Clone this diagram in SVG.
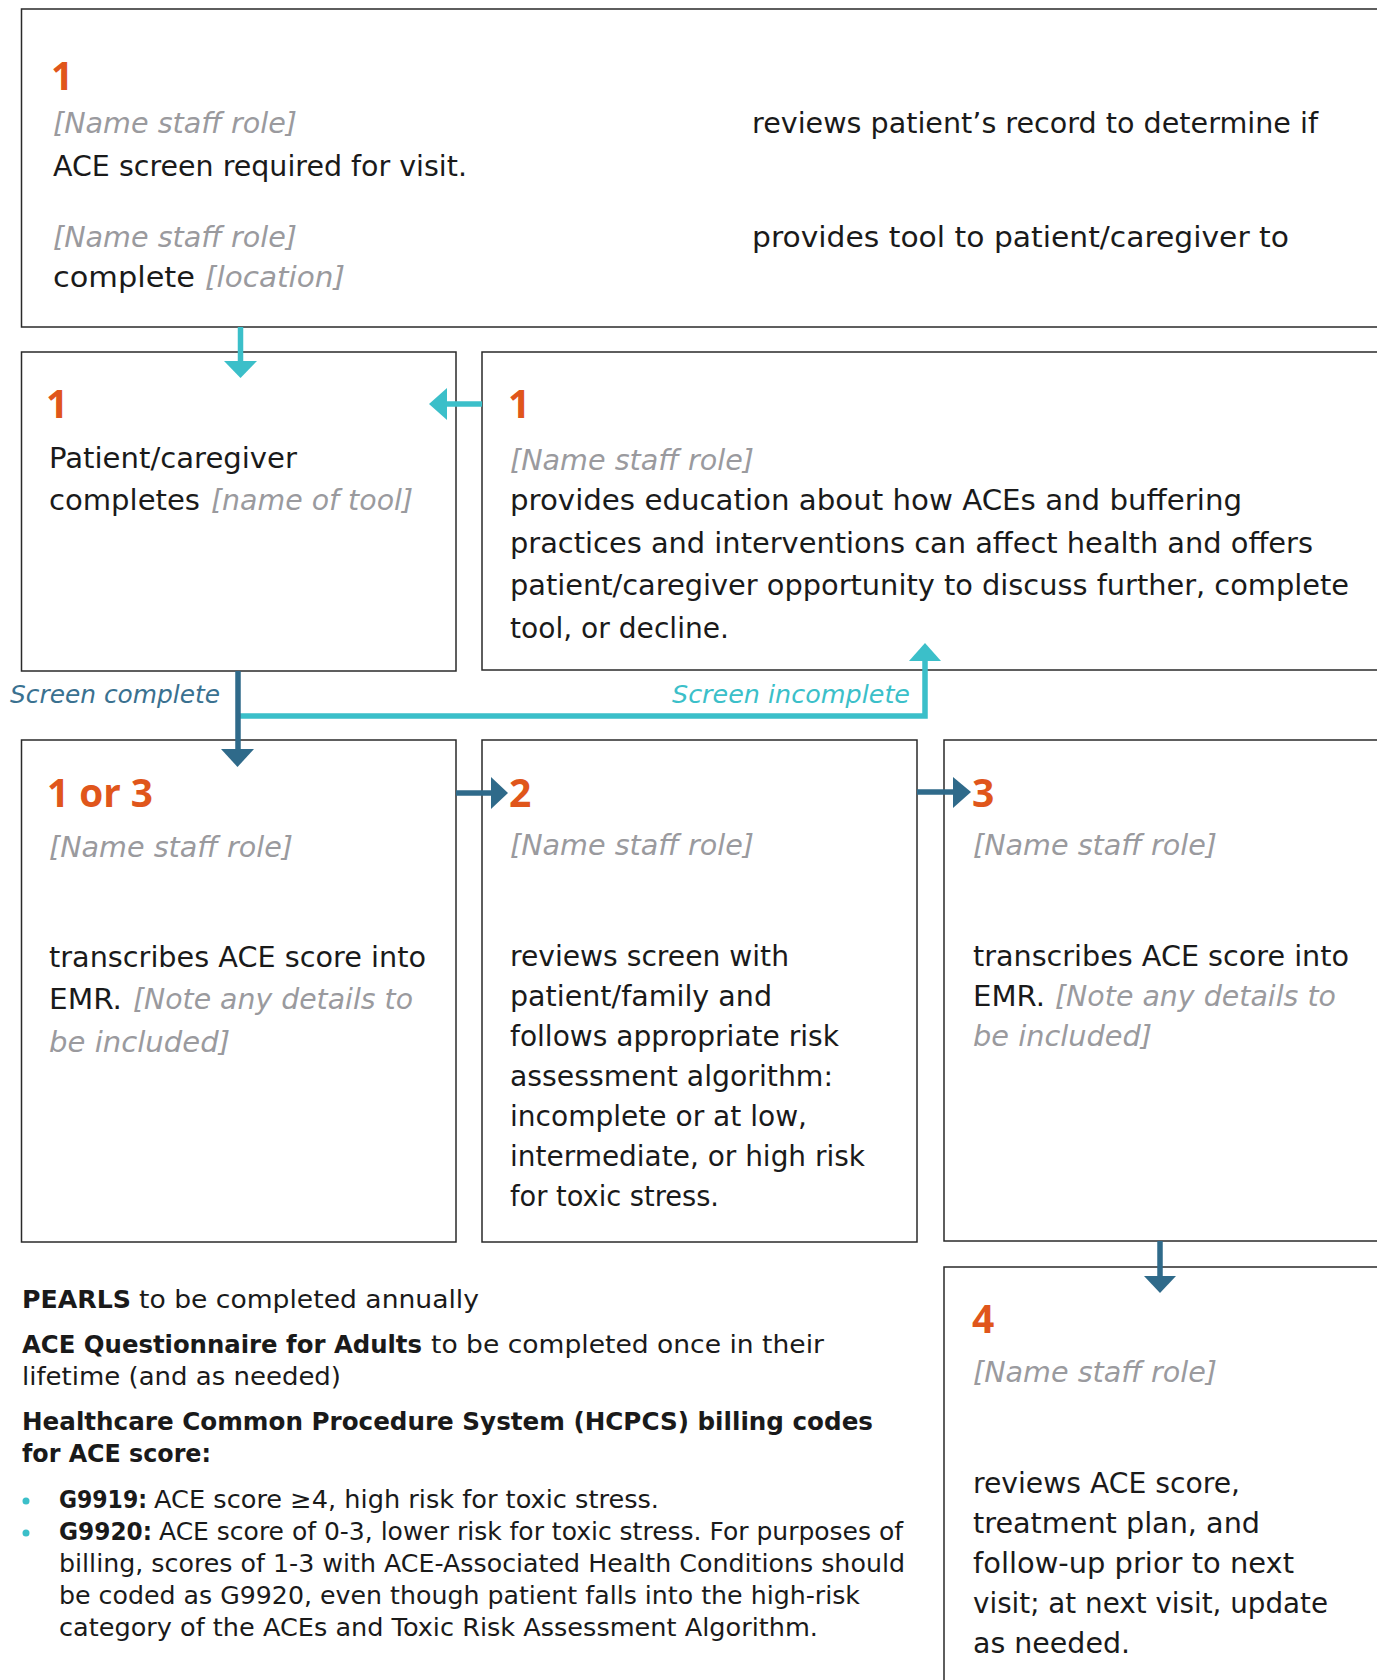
<svg xmlns="http://www.w3.org/2000/svg" width="1377" height="1680" viewBox="0 0 1377 1680">
<style>
.box{fill:#fff;stroke:#2a2a2a;stroke-width:1.5}
text{font-family:"DejaVu Sans","Liberation Sans",sans-serif;fill:#1a1a1a}
.b{font-size:28.5px}
.g{font-size:28.5px;font-style:italic;fill:#9a9a9e}
.num{font-family:"Open Sans","DejaVu Sans",sans-serif;font-weight:700;font-size:39px;fill:#e0561b}
.sm{font-size:25px}
.bold{font-weight:700}
.lblc{font-size:25px;font-style:italic;fill:#3a7190}
.lbli{font-size:25px;font-style:italic;fill:#3bbfc9}
.teal{stroke:#3bbfc9;stroke-width:5.5;fill:none}
.tealh{fill:#3bbfc9}
.dark{stroke:#2f6a8a;stroke-width:5.5;fill:none}
.darkh{fill:#2f6a8a}
</style>
<g id="node-top">
<rect class="box" x="21.5" y="9" width="1400" height="318"/>
<text class="num" x="51" y="90">1</text>
<text class="g" x="53" y="133" textLength="244" lengthAdjust="spacingAndGlyphs">[Name staff role]</text>
<text class="b" x="752" y="133" textLength="566" lengthAdjust="spacingAndGlyphs">reviews patient’s record to determine if</text>
<text class="b" x="53" y="176" textLength="414" lengthAdjust="spacingAndGlyphs">ACE screen required for visit.</text>
<text class="g" x="53" y="247" textLength="244" lengthAdjust="spacingAndGlyphs">[Name staff role]</text>
<text class="b" x="752" y="247" textLength="537" lengthAdjust="spacingAndGlyphs">provides tool to patient/caregiver to</text>
<text class="b" x="53" y="287" textLength="142" lengthAdjust="spacingAndGlyphs">complete</text>
<text class="g" x="205" y="287" textLength="140" lengthAdjust="spacingAndGlyphs">[location]</text>
</g>
<g id="node-patient">
<rect class="box" x="21.5" y="352" width="434.5" height="319"/>
<text class="num" x="46" y="418">1</text>
<text class="b" x="49" y="468" textLength="248" lengthAdjust="spacingAndGlyphs">Patient/caregiver</text>
<text class="b" x="49" y="510" textLength="151" lengthAdjust="spacingAndGlyphs">completes</text>
<text class="g" x="211" y="510" textLength="202" lengthAdjust="spacingAndGlyphs">[name of tool]</text>
</g>
<g id="node-education">
<rect class="box" x="482" y="352" width="950" height="318"/>
<text class="num" x="508" y="418">1</text>
<text class="g" x="510" y="470" textLength="244" lengthAdjust="spacingAndGlyphs">[Name staff role]</text>
<text class="b" x="510" y="510" textLength="732" lengthAdjust="spacingAndGlyphs">provides education about how ACEs and buffering</text>
<text class="b" x="510" y="553" textLength="803" lengthAdjust="spacingAndGlyphs">practices and interventions can affect health and offers</text>
<text class="b" x="510" y="595" textLength="839" lengthAdjust="spacingAndGlyphs">patient/caregiver opportunity to discuss further, complete</text>
<text class="b" x="510" y="638" textLength="219" lengthAdjust="spacingAndGlyphs">tool, or decline.</text>
</g>
<g id="node-1or3">
<rect class="box" x="21.5" y="740" width="434.5" height="502"/>
<text class="num" x="47" y="807" textLength="106" lengthAdjust="spacingAndGlyphs">1 or 3</text>
<text class="g" x="49" y="857" textLength="244" lengthAdjust="spacingAndGlyphs">[Name staff role]</text>
<text class="b" x="49" y="967" textLength="377" lengthAdjust="spacingAndGlyphs">transcribes ACE score into</text>
<text class="b" x="49" y="1009" textLength="73" lengthAdjust="spacingAndGlyphs">EMR.</text>
<text class="g" x="133" y="1009" textLength="280" lengthAdjust="spacingAndGlyphs">[Note any details to</text>
<text class="g" x="49" y="1052" textLength="181" lengthAdjust="spacingAndGlyphs">be included]</text>
</g>
<g id="node-2">
<rect class="box" x="482" y="740" width="435" height="502"/>
<text class="num" x="509" y="807">2</text>
<text class="g" x="510" y="855" textLength="244" lengthAdjust="spacingAndGlyphs">[Name staff role]</text>
<text class="b" x="510" y="966" textLength="279" lengthAdjust="spacingAndGlyphs">reviews screen with</text>
<text class="b" x="510" y="1006" textLength="262" lengthAdjust="spacingAndGlyphs">patient/family and</text>
<text class="b" x="510" y="1046" textLength="329" lengthAdjust="spacingAndGlyphs">follows appropriate risk</text>
<text class="b" x="510" y="1086" textLength="323" lengthAdjust="spacingAndGlyphs">assessment algorithm:</text>
<text class="b" x="510" y="1126" textLength="297" lengthAdjust="spacingAndGlyphs">incomplete or at low,</text>
<text class="b" x="510" y="1166" textLength="355" lengthAdjust="spacingAndGlyphs">intermediate, or high risk</text>
<text class="b" x="510" y="1206" textLength="209" lengthAdjust="spacingAndGlyphs">for toxic stress.</text>
</g>
<g id="node-3">
<rect class="box" x="944" y="740" width="500" height="501"/>
<text class="num" x="972" y="807">3</text>
<text class="g" x="973" y="855" textLength="244" lengthAdjust="spacingAndGlyphs">[Name staff role]</text>
<text class="b" x="973" y="966" textLength="376" lengthAdjust="spacingAndGlyphs">transcribes ACE score into</text>
<text class="b" x="973" y="1006" textLength="72" lengthAdjust="spacingAndGlyphs">EMR.</text>
<text class="g" x="1055" y="1006" textLength="281" lengthAdjust="spacingAndGlyphs">[Note any details to</text>
<text class="g" x="973" y="1046" textLength="179" lengthAdjust="spacingAndGlyphs">be included]</text>
</g>
<g id="node-4">
<rect class="box" x="944" y="1267" width="500" height="500"/>
<text class="num" x="972" y="1333">4</text>
<text class="g" x="973" y="1382" textLength="244" lengthAdjust="spacingAndGlyphs">[Name staff role]</text>
<text class="b" x="973" y="1493" textLength="267" lengthAdjust="spacingAndGlyphs">reviews ACE score,</text>
<text class="b" x="973" y="1533" textLength="287" lengthAdjust="spacingAndGlyphs">treatment plan, and</text>
<text class="b" x="973" y="1573" textLength="321" lengthAdjust="spacingAndGlyphs">follow-up prior to next</text>
<text class="b" x="973" y="1613" textLength="355" lengthAdjust="spacingAndGlyphs">visit; at next visit, update</text>
<text class="b" x="973" y="1653" textLength="157" lengthAdjust="spacingAndGlyphs">as needed.</text>
</g>
<g id="notes">
<text class="sm bold" x="22" y="1308" textLength="109" lengthAdjust="spacingAndGlyphs">PEARLS</text>
<text class="sm" x="139" y="1308" textLength="340" lengthAdjust="spacingAndGlyphs">to be completed annually</text>
<text class="sm bold" x="22" y="1353" textLength="400" lengthAdjust="spacingAndGlyphs">ACE Questionnaire for Adults</text>
<text class="sm" x="431" y="1353" textLength="393" lengthAdjust="spacingAndGlyphs">to be completed once in their</text>
<text class="sm" x="22" y="1385" textLength="319" lengthAdjust="spacingAndGlyphs">lifetime (and as needed)</text>
<text class="sm bold" x="22" y="1430" textLength="851" lengthAdjust="spacingAndGlyphs">Healthcare Common Procedure System (HCPCS) billing codes</text>
<text class="sm bold" x="22" y="1462" textLength="189" lengthAdjust="spacingAndGlyphs">for ACE score:</text>
<circle class="tealh" cx="26" cy="1501" r="3.5"/>
<text class="sm bold" x="59" y="1508" textLength="88" lengthAdjust="spacingAndGlyphs">G9919:</text>
<text class="sm" x="154" y="1508" textLength="505" lengthAdjust="spacingAndGlyphs">ACE score ≥4, high risk for toxic stress.</text>
<circle class="tealh" cx="26" cy="1533" r="3.5"/>
<text class="sm bold" x="59" y="1540" textLength="93" lengthAdjust="spacingAndGlyphs">G9920:</text>
<text class="sm" x="159" y="1540" textLength="744" lengthAdjust="spacingAndGlyphs">ACE score of 0-3, lower risk for toxic stress. For purposes of</text>
<text class="sm" x="59" y="1572" textLength="846" lengthAdjust="spacingAndGlyphs">billing, scores of 1-3 with ACE-Associated Health Conditions should</text>
<text class="sm" x="59" y="1604" textLength="801" lengthAdjust="spacingAndGlyphs">be coded as G9920, even though patient falls into the high-risk</text>
<text class="sm" x="59" y="1636" textLength="759" lengthAdjust="spacingAndGlyphs">category of the ACEs and Toxic Risk Assessment Algorithm.</text>
</g>
<g id="connectors">
<line class="teal" x1="240.5" y1="327" x2="240.5" y2="362"/>
<polygon class="tealh" points="224,361 257,361 240.5,378"/>
<line class="teal" x1="482" y1="404" x2="446" y2="404"/>
<polygon class="tealh" points="447,388 447,420 429,404"/>
<polyline class="teal" points="238,716 925,716 925,660"/>
<polygon class="tealh" points="909,661 941,661 925,643"/>
<line class="dark" x1="238" y1="671" x2="238" y2="750"/>
<polygon class="darkh" points="221,749 254,749 237.5,767"/>
<line class="dark" x1="456" y1="793" x2="492" y2="793"/>
<polygon class="darkh" points="491,777 491,809 508,793"/>
<line class="dark" x1="917" y1="792" x2="954" y2="792"/>
<polygon class="darkh" points="953,777 953,808 971,792"/>
<line class="dark" x1="1160" y1="1241" x2="1160" y2="1277"/>
<polygon class="darkh" points="1144,1276 1176,1276 1160,1293"/>
<text class="lblc" x="10" y="703" textLength="210" lengthAdjust="spacingAndGlyphs">Screen complete</text>
<text class="lbli" x="672" y="703" textLength="238" lengthAdjust="spacingAndGlyphs">Screen incomplete</text>
</g>
</svg>
